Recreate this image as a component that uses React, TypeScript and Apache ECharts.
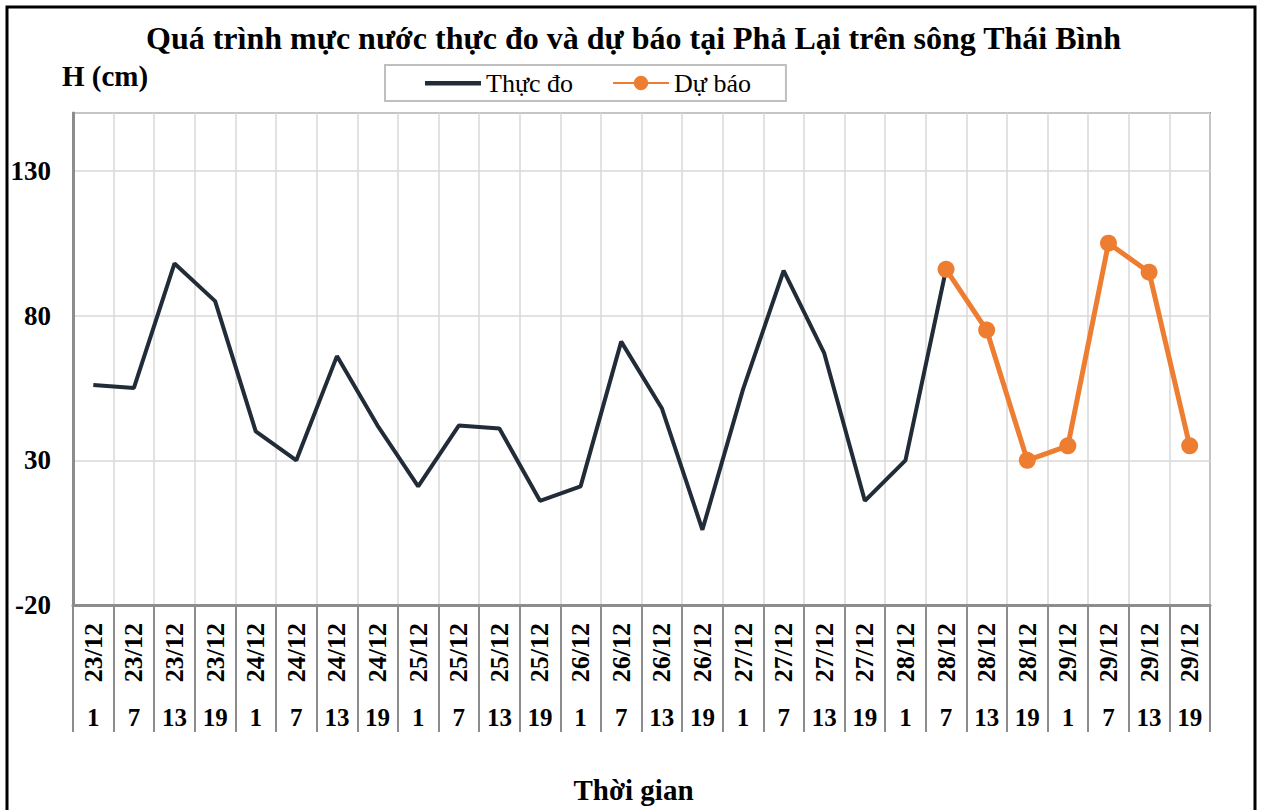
import React, { useEffect, useRef } from "react";
import * as echarts from "echarts";

const dates = [
  "23/12", "23/12", "23/12", "23/12",
  "24/12", "24/12", "24/12", "24/12",
  "25/12", "25/12", "25/12", "25/12",
  "26/12", "26/12", "26/12", "26/12",
  "27/12", "27/12", "27/12", "27/12",
  "28/12", "28/12", "28/12", "28/12",
  "29/12", "29/12", "29/12", "29/12",
];
const hours = [
  "1", "7", "13", "19", "1", "7", "13", "19", "1", "7", "13", "19", "1", "7",
  "13", "19", "1", "7", "13", "19", "1", "7", "13", "19", "1", "7", "13", "19",
];
const observed: (number | null)[] = [
  56, 55, 98, 85, 40, 30, 66, 42, 21, 42, 41, 16, 21, 71, 48, 6, 54.5, 95.5, 67,
  16, 30, 96, null, null, null, null, null, null,
];
const forecast: (number | null)[] = [
  null, null, null, null, null, null, null, null, null, null, null, null, null,
  null, null, null, null, null, null, null, null, 96, 75, 30, 35, 105, 95, 35,
];
const yTicks = [-20, 30, 80, 130];

const FONT = "Liberation Serif";

export default function App() {
  const ref = useRef<HTMLDivElement>(null);
  useEffect(() => {
    if (!ref.current) return;
    const chart = echarts.init(ref.current, null, { renderer: "svg" });
    const categories = dates.map((d, i) => d + "|" + hours[i]);
    chart.setOption({
      animation: false,
      backgroundColor: "#ffffff",
      textStyle: { fontFamily: FONT },
      title: {
        text: "Quá trình mực nước thực đo và dự báo tại Phả Lại trên sông Thái Bình",
        left: "center",
        top: 17,
        textStyle: { fontFamily: FONT, fontSize: 32, fontWeight: "bold", color: "#000" },
      },
      legend: {
        top: 65,
        left: 385,
        padding: [5, 35, 5, 40],
        itemWidth: 56,
        itemHeight: 18,
        itemGap: 39,
        borderColor: "#bfbfbf",
        borderWidth: 2,
        textStyle: { fontFamily: FONT, fontSize: 26, color: "#000" },
        data: [
          {
            name: "Thực đo",
            icon: "path://M0,0h0.01v0.01h-0.01z M0,7h56v4.5h-56z M55.99,17.99h0.01v0.01h-0.01z",
            itemStyle: { color: "#222b38" },
            textStyle: { fontFamily: FONT, fontSize: 26, color: "#000" },
          },
          {
            name: "Dự báo",
            textStyle: { fontFamily: FONT, fontSize: 26, color: "#000" },
          },
        ],
      },
      grid: {
        left: 73,
        right: 57,
        top: 113,
        bottom: 205,
        show: true,
        borderColor: "#8c8c8c",
        borderWidth: 2,
      },
      xAxis: [
        {
          type: "category",
          data: categories,
          boundaryGap: true,
          axisLine: { onZero: false, lineStyle: { color: "#8c8c8c", width: 3 } },
          axisTick: { show: true, interval: 0, length: 127, lineStyle: { color: "#8c8c8c", width: 2 } },
          splitLine: { show: true, interval: 0, lineStyle: { color: "#d9d9d9", width: 1.5 } },
          axisLabel: {
            interval: 0,
            rotate: 90,
            margin: 18,
            formatter: (v: string) => v.split("|")[0],
            fontFamily: FONT,
            fontSize: 26,
            fontWeight: "bold",
            color: "#000",
          },
        },
        {
          type: "category",
          data: categories,
          position: "bottom",
          offset: 95,
          axisLine: { show: false, onZero: false },
          axisTick: { show: false },
          splitLine: { show: false },
          axisLabel: {
            interval: 0,
            margin: 5,
            formatter: (v: string) => v.split("|")[1],
            fontFamily: FONT,
            fontSize: 25,
            fontWeight: "bold",
            color: "#000",
          },
        },
      ],
      yAxis: {
        type: "value",
        min: -20,
        max: 150,
        interval: 50,
        axisLine: { show: true, lineStyle: { color: "#8c8c8c", width: 3 } },
        axisTick: { show: false },
        splitLine: { show: true, lineStyle: { color: "#d9d9d9", width: 1.5 } },
        axisLabel: {
          margin: 22,
          formatter: (v: number) => (yTicks.includes(v) ? String(v) : ""),
          fontFamily: FONT,
          fontSize: 27,
          fontWeight: "bold",
          color: "#000",
        },
      },
      graphic: [
        {
          type: "text",
          left: 62,
          top: 61,
          style: { text: "H (cm)", fontFamily: FONT, fontSize: 29, fontWeight: "bold", fill: "#000" },
        },
        {
          type: "text",
          left: "center",
          top: 775,
          style: { text: "Thời gian", fontFamily: FONT, fontSize: 29, fontWeight: "bold", fill: "#000" },
        },
        {
          type: "rect",
          shape: { x: 7, y: 7, width: 1248, height: 830 },
          style: { fill: "none", stroke: "#000", lineWidth: 3 },
          silent: true,
        },
      ],
      series: [
        {
          name: "Thực đo",
          type: "line",
          data: observed,
          symbol: "none",
          lineStyle: { color: "#222b38", width: 4 },
          itemStyle: { color: "#222b38" },
          connectNulls: false,
        },
        {
          name: "Dự báo",
          type: "line",
          data: forecast,
          symbol: "circle",
          symbolSize: 17,
          lineStyle: { color: "#ed7d31", width: 5 },
          itemStyle: { color: "#ed7d31" },
          connectNulls: false,
        },
      ],
    });
    return () => chart.dispose();
  }, []);
  return (
    <div
      ref={ref}
      style={{ position: "fixed", left: 0, top: 0, width: 1267, height: 810 }}
    />
  );
}
